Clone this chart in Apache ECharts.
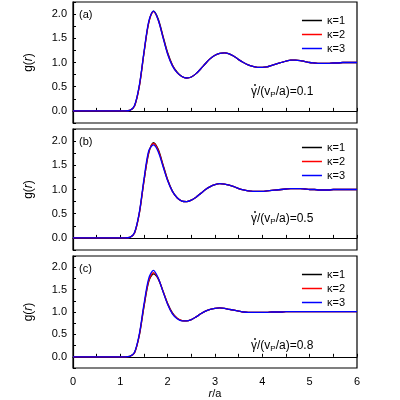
<!DOCTYPE html>
<html><head><meta charset="utf-8">
<script src="https://cdn.jsdelivr.net/npm/echarts@6/dist/echarts.min.js"></script>
<style>html,body{margin:0;padding:0;background:#fff}#c{width:400px;height:400px}</style>
</head><body><div id="c"></div>
<script>
const r = [];
for (let i = 0; i <= 60; i++) r.push(+(i * 0.1).toFixed(1));
const head = [0,0,0,0,0,0,0,0,0,0,0,0,0.01];
// panel a (shear 0.1)
const a1 = head.concat([0.1,0.5,1.2,1.82,2.06,1.9,1.55,1.2,0.95,0.8,0.71,0.68,0.70,0.77,0.87,0.98,1.08,1.15,1.19,1.2,1.18,1.13,1.06,1.0,0.95,0.92,0.90,0.90,0.91,0.94,0.97,1.0,1.03,1.05,1.05,1.04,1.02,1.0,0.99,0.98,0.98,0.98,0.99,0.99,1.0,1.0,1.0,1.0]);
const a2 = head.concat([0.1,0.5,1.2,1.83,2.05,1.88,1.53,1.18,0.94,0.79,0.71,0.68,0.70,0.77,0.87,0.98,1.08,1.15,1.19,1.2,1.18,1.13,1.06,1.0,0.95,0.92,0.90,0.90,0.91,0.94,0.97,1.0,1.03,1.05,1.05,1.04,1.02,1.0,0.99,0.98,0.98,0.98,0.99,0.99,1.0,1.0,1.0,1.0]);
const a3 = head.concat([0.11,0.52,1.22,1.85,2.06,1.88,1.52,1.17,0.93,0.79,0.71,0.68,0.70,0.77,0.87,0.98,1.08,1.15,1.19,1.2,1.18,1.13,1.06,1.0,0.95,0.92,0.90,0.90,0.91,0.94,0.97,1.0,1.03,1.05,1.05,1.04,1.02,1.0,0.99,0.98,0.98,0.98,0.99,0.99,1.0,1.0,1.0,1.0]);
// panel b (shear 0.5)
const b1 = head.concat([0.1,0.5,1.18,1.75,1.97,1.83,1.52,1.2,0.97,0.83,0.76,0.75,0.78,0.84,0.92,1.0,1.06,1.1,1.12,1.11,1.09,1.06,1.02,0.99,0.97,0.96,0.96,0.96,0.97,0.98,0.99,1.0,1.01,1.02,1.02,1.02,1.01,1.0,1.0,0.99,0.99,0.99,1.0,1.0,1.0,1.0,1.0,1.0]);
const b2 = head.concat([0.1,0.5,1.18,1.77,1.95,1.81,1.5,1.19,0.96,0.83,0.76,0.75,0.78,0.84,0.92,1.0,1.06,1.1,1.12,1.11,1.09,1.06,1.02,0.99,0.97,0.96,0.96,0.96,0.97,0.98,0.99,1.0,1.01,1.02,1.02,1.02,1.01,1.0,1.0,0.99,0.99,0.99,1.0,1.0,1.0,1.0,1.0,1.0]);
const b3 = head.concat([0.11,0.52,1.22,1.8,1.92,1.78,1.48,1.18,0.96,0.83,0.76,0.75,0.78,0.84,0.92,1.0,1.06,1.1,1.12,1.11,1.09,1.06,1.02,0.99,0.97,0.96,0.96,0.96,0.97,0.98,0.99,1.0,1.01,1.02,1.02,1.02,1.01,1.0,1.0,0.99,0.99,0.99,1.0,1.0,1.0,1.0,1.0,1.0]);
// panel c (shear 0.8)
const c1 = head.concat([0.09,0.47,1.12,1.68,1.85,1.74,1.47,1.19,0.98,0.86,0.81,0.8,0.83,0.89,0.96,1.02,1.06,1.08,1.09,1.08,1.06,1.04,1.02,1.0,0.99,0.99,0.99,0.99,0.99,1.0,1.0,1.0,1.01,1.01,1.01,1.01,1.01,1.01,1.01,1.01,1.01,1.01,1.01,1.01,1.01,1.01,1.01,1.01]);
const c2 = head.concat([0.09,0.48,1.14,1.7,1.88,1.75,1.47,1.18,0.97,0.86,0.81,0.8,0.83,0.89,0.96,1.02,1.06,1.08,1.09,1.08,1.06,1.04,1.02,1.0,0.99,0.99,0.99,0.99,0.99,1.0,1.0,1.0,1.01,1.01,1.01,1.01,1.01,1.01,1.01,1.01,1.01,1.01,1.01,1.01,1.01,1.01,1.01,1.01]);
const c3 = head.concat([0.1,0.5,1.18,1.75,1.93,1.76,1.46,1.17,0.96,0.85,0.8,0.8,0.83,0.89,0.96,1.02,1.06,1.08,1.09,1.08,1.06,1.04,1.02,1.0,0.99,0.99,0.99,0.99,0.99,1.0,1.0,1.0,1.01,1.01,1.01,1.01,1.01,1.01,1.01,1.01,1.01,1.01,1.01,1.01,1.01,1.01,1.01,1.01]);
const panels = [[a1,a2,a3],[b1,b2,b3],[c1,c2,c3]];
const panelLabels = ['(a)','(b)','(c)'];
const shears = ['0.1','0.5','0.8'];
const names = ['κ=1','κ=2','κ=3'];
const colors = ['#000000','#ff0000','#0000ff'];
const xTicks = [0,1,2,3,4,5,6];

const tops = [2, 129, 256], H = 121;
const F = 'Arial, "Liberation Sans", sans-serif';
const grids = [], xAxes = [], yAxes = [], series = [], legends = [], graphics = [];
panels.forEach((p, k) => {
  grids.push({left: 73, width: 284, top: tops[k], height: H, show: true, borderColor: '#000', borderWidth: 1.2, backgroundColor: 'transparent'});
  xAxes.push({gridIndex: k, type: 'value', min: 0, max: 6, interval: 0.5,
    axisLine: {show: true, lineStyle: {color: '#000', width: 1.2}},
    axisTick: {show: true, inside: true, length: 3, lineStyle: {color: '#000'}},
    splitLine: {show: false},
    axisLabel: {show: k === 2, color: '#000', fontFamily: F, fontSize: 11,
      formatter: v => xTicks.indexOf(v) >= 0 ? String(v) : ''},
    name: k === 2 ? '{i|r}/a' : '', nameLocation: 'middle', nameGap: 20,
    nameTextStyle: {color: '#000', fontFamily: F, fontSize: 11, rich: {i: {fontStyle: 'italic', fontFamily: F, fontSize: 11}}}
  });
  yAxes.push({gridIndex: k, type: 'value', min: -0.25, max: 2.25, interval: 0.25,
    axisLine: {show: true, lineStyle: {color: '#000', width: 1.2}},
    axisTick: {show: true, inside: true, length: 3, lineStyle: {color: '#000'}},
    splitLine: {show: false},
    axisLabel: {color: '#000', fontFamily: F, fontSize: 11, margin: 6,
      formatter: v => (Math.abs(v * 2 - Math.round(v * 2)) < 1e-6 && v >= 0 && v <= 2) ? v.toFixed(1) : ''},
    name: 'g({i|r})', nameLocation: 'middle', nameGap: 38,
    nameTextStyle: {color: '#000', fontFamily: F, fontSize: 12, rich: {i: {fontStyle: 'italic', fontFamily: F, fontSize: 12}}}
  });
  p.forEach((d, j) => {
    series.push({type: 'line', name: names[j], xAxisIndex: k, yAxisIndex: k, showSymbol: false, smooth: 0.3,
      data: r.map((x, i) => [x, d[i]]), lineStyle: {color: colors[j], width: 1.3}, itemStyle: {color: colors[j]}, z: 3 + j});
  });
  legends.push({right: 50, top: tops[k] + 8, orient: 'vertical', itemGap: 3, itemWidth: 20, itemHeight: 1.5,
    icon: 'rect', data: names.map((n, j) => ({name: n, itemStyle: {color: colors[j]}})),
    textStyle: {color: '#000', fontFamily: F, fontSize: 11}, selectedMode: false});
  graphics.push({type: 'text', left: 79, top: tops[k] + 7, style: {text: panelLabels[k], font: '11px ' + F, fill: '#000'}});
  graphics.push({type: 'text', left: 251, top: tops[k] + 84, style: {
    text: 'γ/(v{s|P}/a)=' + shears[k], font: '12px ' + F, fill: '#000',
    rich: {s: {fontSize: 8, verticalAlign: 'bottom', padding: [6, 0, 0, 0], fontFamily: F}}}});
  graphics.push({type: 'circle', shape: {cx: 255, cy: tops[k] + 83, r: 0.9}, style: {fill: '#000'}});
});
const chart = echarts.init(document.getElementById('c'));
chart.setOption({animation: false, grid: grids, xAxis: xAxes, yAxis: yAxes, series, legend: legends, graphic: graphics});
</script></body></html>
